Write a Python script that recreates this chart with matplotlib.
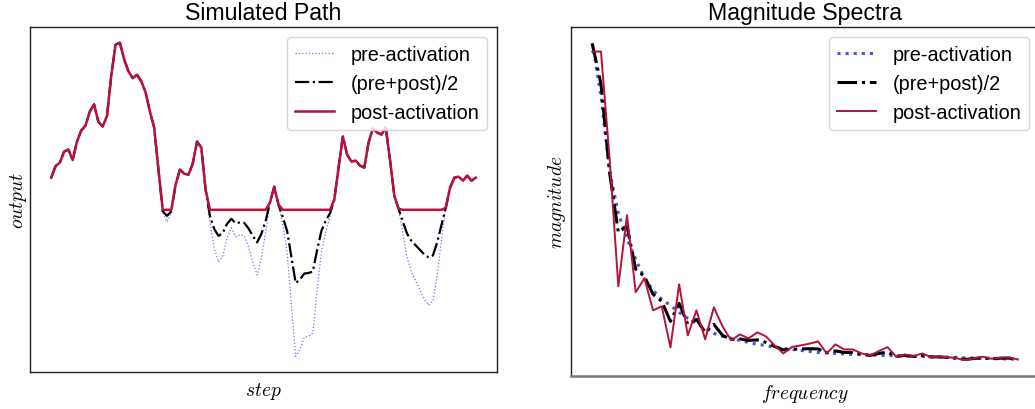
import numpy as np
import matplotlib
matplotlib.use("Agg")
import matplotlib.pyplot as plt

plt.rcParams['font.family'] = ['Liberation Sans', 'DejaVu Sans']
plt.rcParams['mathtext.fontset'] = 'cm'

# ---- simulated path (one value per step) ----
threshold = 0.0
pre_activation = [
    0.64, 0.87, 0.94, 1.16, 1.20, 0.99, 1.36, 1.58, 1.68, 1.96,
    2.10, 1.75, 1.66, 1.87, 2.68, 3.29, 3.33, 3.00, 2.76, 2.62,
    2.69, 2.56, 2.34, 1.96, 1.64, 0.80, -0.06, -0.24, -0.06, 0.50,
    0.80, 0.72, 0.70, 0.92, 1.36, 1.24, 0.40, -0.24, -0.76, -1.04,
    -0.92, -0.56, -0.36, -0.54, -0.50, -0.52, -0.74, -1.04, -1.30, -0.96,
    -0.44, 0.14, 0.46, 0.10, -0.30, -0.84, -1.88, -2.92, -2.78, -2.54,
    -2.52, -2.46, -1.60, -0.84, -0.44, -0.14, 0.20, 0.84, 1.46, 1.10,
    0.96, 0.98, 0.88, 0.84, 1.34, 1.62, 1.54, 1.50, 1.64, 1.00,
    0.28, 0.02, -0.48, -0.96, -1.24, -1.42, -1.60, -1.78, -1.90, -1.82,
    -1.30, -0.60, 0.04, 0.44, 0.64, 0.66, 0.58, 0.68, 0.58, 0.64,
]

# ---- magnitude spectra (first 50 frequency bins) ----
spec_pre = [
    33.25, 27.95, 20.45, 16.25, 13.65, 11.65, 9.75, 8.55, 7.65, 7.05,
    6.35, 5.75, 5.25, 4.75, 4.25, 3.95, 3.75, 3.55, 3.35, 3.15,
    3.05, 2.85, 2.75, 2.65, 2.55, 2.45, 2.35, 2.30, 2.25, 2.20,
    2.15, 2.15, 2.10, 2.05, 2.05, 2.00, 2.00, 1.95, 1.95, 1.90,
    1.90, 1.85, 1.85, 1.80, 1.80, 1.75, 1.75, 1.70, 1.70, 1.65,
]
spec_mid = [
    33.15, 29.15, 20.25, 14.35, 14.95, 10.65, 9.95, 8.15, 7.45, 5.45,
    7.25, 5.15, 5.65, 4.35, 5.15, 4.05, 3.65, 3.70, 3.55, 3.60,
    3.35, 2.95, 2.60, 2.65, 2.70, 2.72, 2.70, 2.32, 2.50, 2.35,
    2.35, 2.15, 2.05, 2.25, 2.38, 1.95, 2.05, 1.95, 2.05, 1.90,
    1.90, 1.85, 1.75, 1.65, 1.75, 1.80, 1.72, 1.77, 1.78, 1.65,
]
spec_post = [
    32.38, 32.38, 21.65, 8.95, 16.05, 8.35, 9.75, 6.55, 6.95, 2.85,
    9.15, 4.05, 6.55, 3.65, 6.85, 4.95, 3.55, 4.15, 3.75, 4.35,
    3.95, 3.05, 2.25, 2.90, 3.05, 3.22, 3.45, 2.25, 3.15, 2.65,
    2.65, 2.25, 2.05, 2.48, 2.88, 1.92, 2.15, 1.98, 2.25, 1.88,
    1.92, 1.88, 1.75, 1.58, 1.78, 1.92, 1.72, 1.82, 1.85, 1.65,
]

labels = ['pre-activation', '(pre+post)/2', 'post-activation']
red = '#b5123c'
blue_thin = '#6f73e0'
blue_dot = '#4a56d0'

pre = np.array(pre_activation)
post = np.maximum(pre, threshold)
mid = (pre + post) / 2
steps = np.arange(len(pre))
freqs = np.arange(len(spec_pre))

fig = plt.figure(figsize=(10.35, 4.10), dpi=100)
ax1 = fig.add_axes([0.0290, 0.0902, 0.4512, 0.8415])
ax2 = fig.add_axes([0.5517, 0.0805, 0.4522, 0.8512])

# left: path
ax1.plot(steps, pre, ':', color=blue_thin, lw=0.9, label=labels[0])
ax1.plot(steps, mid, '-.', color='black', lw=1.6, label=labels[1])
ax1.plot(steps, post, '-', color=red, lw=1.8, label=labels[2])
ax1.set_title('Simulated Path', fontsize=16.7)
ax1.set_xlabel(r'$step$', fontsize=14, labelpad=6)
ax1.set_ylabel(r'$output$', fontsize=14, labelpad=1)

# right: spectra
ax2.plot(freqs, spec_pre, ':', color=blue_dot, lw=2.2, label=labels[0])
ax2.plot(freqs, spec_mid, '-.', color='black', lw=2.2, label=labels[1])
ax2.plot(freqs, spec_post, '-', color=red, lw=1.4, label=labels[2])
ax2.set_title('Magnitude Spectra', fontsize=16.7)
ax2.set_xlabel(r'$frequency$', fontsize=14, labelpad=4)
ax2.set_ylabel(r'$magnitude$', fontsize=14, labelpad=2)

for ax in (ax1, ax2):
    ax.set_xticks([])
    ax.set_yticks([])
    ax.legend(loc='upper right', fontsize=14.3)
    for sp in ax.spines.values():
        sp.set_color('#222222')
        sp.set_linewidth(1.0)

ax2.spines['bottom'].set_color('#777777')
ax2.spines['bottom'].set_linewidth(1.8)

fig.savefig('out.png', dpi=100)
